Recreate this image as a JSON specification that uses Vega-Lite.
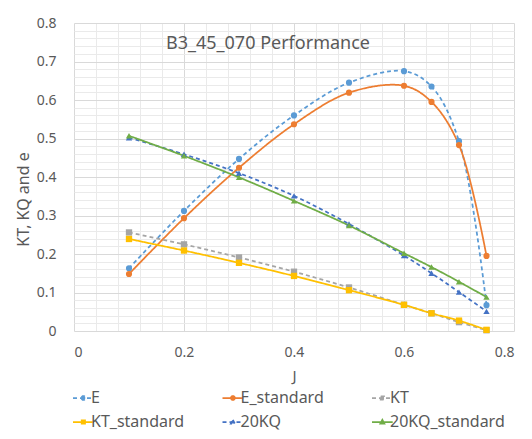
{
  "$schema": "https://vega.github.io/schema/vega-lite/v6.json",
  "width": 440,
  "height": 308,
  "autosize": {"type": "none"},
  "padding": {"left": 74, "top": 23, "right": 18, "bottom": 108},
  "background": "white",
  "config": {
    "font": "Noto Sans",
    "view": {"stroke": null},
    "axis": {"labelColor": "#595959", "titleColor": "#595959", "labelFont": "Noto Sans", "titleFont": "Noto Sans", "titleFontWeight": "normal"},
    "legend": {
      "direction": "horizontal",
      "columns": 3,
      "gridAlign": "all",
      "columnPadding": 12.5,
      "rowPadding": 8,
      "symbolSize": 100,
      "symbolStrokeWidth": 1.75,
      "labelOffset": 5,
      "labelFontSize": 16,
      "labelFont": "Noto Sans",
      "labelColor": "#595959",
      "labelLimit": 200
    }
  },
  "title": {
    "text": "B3_45_070 Performance",
    "anchor": "start",
    "frame": "group",
    "orient": "top",
    "offset": 0,
    "dx": 92,
    "dy": 51,
    "baseline": "alphabetic",
    "fontSize": 18,
    "fontWeight": "normal",
    "color": "#595959",
    "font": "Noto Sans"
  },
  "data": {
    "values": [
      {"J": 0.1, "series": "E", "v": 0.163},
      {"J": 0.2, "series": "E", "v": 0.312},
      {"J": 0.3, "series": "E", "v": 0.447},
      {"J": 0.4, "series": "E", "v": 0.560},
      {"J": 0.5, "series": "E", "v": 0.645},
      {"J": 0.6, "series": "E", "v": 0.675},
      {"J": 0.65, "series": "E", "v": 0.635},
      {"J": 0.7, "series": "E", "v": 0.493},
      {"J": 0.75, "series": "E", "v": 0.067},
      {"J": 0.1, "series": "E_standard", "v": 0.148},
      {"J": 0.2, "series": "E_standard", "v": 0.293},
      {"J": 0.3, "series": "E_standard", "v": 0.424},
      {"J": 0.4, "series": "E_standard", "v": 0.537},
      {"J": 0.5, "series": "E_standard", "v": 0.619},
      {"J": 0.6, "series": "E_standard", "v": 0.637},
      {"J": 0.65, "series": "E_standard", "v": 0.595},
      {"J": 0.7, "series": "E_standard", "v": 0.483},
      {"J": 0.75, "series": "E_standard", "v": 0.195},
      {"J": 0.1, "series": "KT", "v": 0.256},
      {"J": 0.2, "series": "KT", "v": 0.225},
      {"J": 0.3, "series": "KT", "v": 0.191},
      {"J": 0.4, "series": "KT", "v": 0.154},
      {"J": 0.5, "series": "KT", "v": 0.113},
      {"J": 0.6, "series": "KT", "v": 0.068},
      {"J": 0.65, "series": "KT", "v": 0.046},
      {"J": 0.7, "series": "KT", "v": 0.023},
      {"J": 0.75, "series": "KT", "v": 0.002},
      {"J": 0.1, "series": "KT_standard", "v": 0.239},
      {"J": 0.2, "series": "KT_standard", "v": 0.209},
      {"J": 0.3, "series": "KT_standard", "v": 0.177},
      {"J": 0.4, "series": "KT_standard", "v": 0.143},
      {"J": 0.5, "series": "KT_standard", "v": 0.106},
      {"J": 0.6, "series": "KT_standard", "v": 0.068},
      {"J": 0.65, "series": "KT_standard", "v": 0.046},
      {"J": 0.7, "series": "KT_standard", "v": 0.027},
      {"J": 0.75, "series": "KT_standard", "v": 0.003},
      {"J": 0.1, "series": "20KQ", "v": 0.502},
      {"J": 0.2, "series": "20KQ", "v": 0.459},
      {"J": 0.3, "series": "20KQ", "v": 0.410},
      {"J": 0.4, "series": "20KQ", "v": 0.351},
      {"J": 0.5, "series": "20KQ", "v": 0.278},
      {"J": 0.6, "series": "20KQ", "v": 0.196},
      {"J": 0.65, "series": "20KQ", "v": 0.150},
      {"J": 0.7, "series": "20KQ", "v": 0.101},
      {"J": 0.75, "series": "20KQ", "v": 0.051},
      {"J": 0.1, "series": "20KQ_standard", "v": 0.507},
      {"J": 0.2, "series": "20KQ_standard", "v": 0.455},
      {"J": 0.3, "series": "20KQ_standard", "v": 0.399},
      {"J": 0.4, "series": "20KQ_standard", "v": 0.338},
      {"J": 0.5, "series": "20KQ_standard", "v": 0.274},
      {"J": 0.6, "series": "20KQ_standard", "v": 0.202},
      {"J": 0.65, "series": "20KQ_standard", "v": 0.166},
      {"J": 0.7, "series": "20KQ_standard", "v": 0.128},
      {"J": 0.75, "series": "20KQ_standard", "v": 0.088}
    ]
  },
  "layer": [
    {
      "transform": [{"filter": "false"}],
      "mark": {"type": "point", "filled": true, "opacity": 1},
      "encoding": {
        "color": {
          "field": "series", "type": "nominal",
          "scale": {"domain": ["E", "E_standard", "KT", "KT_standard", "20KQ", "20KQ_standard"], "range": ["#5B9BD5", "#ED7D31", "#A5A5A5", "#FFC000", "#4472C4", "#70AD47"]},
          "legend": {"title": null, "orient": "none", "legendX": -4, "legendY": 367}
        },
        "stroke": {
          "field": "series", "type": "nominal",
          "scale": {"domain": ["E", "E_standard", "KT", "KT_standard", "20KQ", "20KQ_standard"], "range": ["#5B9BD5", "#ED7D31", "#A5A5A5", "#FFC000", "#4472C4", "#70AD47"]},
          "legend": {"title": null, "orient": "none", "legendX": -4, "legendY": 367}
        },
        "strokeDash": {
          "field": "series", "type": "nominal",
          "scale": {"domain": ["E", "E_standard", "KT", "KT_standard", "20KQ", "20KQ_standard"], "range": [[4, 3], [1, 0], [4, 3], [1, 0], [4, 3], [1, 0]]},
          "legend": {"title": null, "orient": "none", "legendX": -4, "legendY": 367}
        },
        "shape": {
          "field": "series", "type": "nominal",
          "scale": {
            "domain": ["E", "E_standard", "KT", "KT_standard", "20KQ", "20KQ_standard"],
            "range": [
              "M-1,0H3.14M0.69,-0.15L0.92,-0.38L1.22,-0.38L1.45,-0.15L1.45,0.15L1.22,0.38L0.92,0.38L0.69,0.15Z",
              "M-1,0H3.14M0.69,-0.15L0.92,-0.38L1.22,-0.38L1.45,-0.15L1.45,0.15L1.22,0.38L0.92,0.38L0.69,0.15Z",
              "M-1,0H3.14M0.74,-0.33H1.4V0.33H0.74Z",
              "M-1,0H3.14M0.74,-0.33H1.4V0.33H0.74Z",
              "M-1,0H3.14M1.07,-0.42L1.47,0.32H0.67Z",
              "M-1,0H3.14M1.07,-0.42L1.47,0.32H0.67Z"
            ]
          },
          "legend": {"title": null, "orient": "none", "legendX": -4, "legendY": 367}
        }
      }
    },
    {
      "mark": {"type": "line", "interpolate": "catmull-rom", "strokeWidth": 1.75},
      "encoding": {
        "x": {
          "field": "J", "type": "quantitative",
          "scale": {"domain": [0, 0.8], "nice": false, "zero": false},
          "axis": {
            "orient": "top", "values": [0.04, 0.08, 0.12, 0.16, 0.24, 0.28, 0.32, 0.36, 0.44, 0.48, 0.52, 0.56, 0.64, 0.68, 0.72, 0.76],
            "grid": true, "gridColor": "#EAEAEA", "gridWidth": 1, "labels": false, "ticks": false, "domain": false, "title": null
          }
        },
        "y": {
          "field": "v", "type": "quantitative",
          "scale": {"domain": [0, 0.8], "nice": false},
          "axis": {
            "orient": "right", "values": [0.02, 0.04, 0.06, 0.08, 0.12, 0.14, 0.16, 0.18, 0.22, 0.24, 0.26, 0.28, 0.32, 0.34, 0.36, 0.38, 0.42, 0.44, 0.46, 0.48, 0.52, 0.54, 0.56, 0.58, 0.62, 0.64, 0.66, 0.68, 0.72, 0.74, 0.76, 0.78],
            "grid": true, "gridColor": "#EAEAEA", "gridWidth": 1, "labels": false, "ticks": false, "domain": false, "title": null
          }
        },
        "color": {"field": "series", "type": "nominal", "legend": null},
        "strokeDash": {"field": "series", "type": "nominal", "legend": null}
      }
    },
    {
      "transform": [{"filter": "datum.series == 'E' || datum.series == 'E_standard'"}],
      "mark": {"type": "point", "shape": "circle", "filled": true, "opacity": 1, "size": 38},
      "encoding": {
        "x": {
          "field": "J", "type": "quantitative",
          "axis": {
            "orient": "bottom", "values": [0, 0.2, 0.4, 0.6, 0.8], "format": "~g",
            "grid": true, "gridColor": "#D9D9D9", "gridWidth": 1, "ticks": false, "tickSize": 0, "domain": false,
            "labelFontSize": 14, "labelPadding": 14, "title": "J", "titleFontSize": 15, "titlePadding": 9
          }
        },
        "y": {
          "field": "v", "type": "quantitative",
          "axis": {
            "orient": "left", "values": [0, 0.1, 0.2, 0.3, 0.4, 0.5, 0.6, 0.7, 0.8], "format": "~g",
            "grid": true, "gridColor": "#D9D9D9", "gridWidth": 1, "ticks": false, "tickSize": 0, "domain": false,
            "labelFontSize": 14, "labelPadding": 18, "title": "KT, KQ and e", "titleFontSize": 16,
            "titleX": -51, "titleY": 176, "titleAngle": -90, "titleBaseline": "middle", "titleAlign": "center"
          }
        },
        "color": {"field": "series", "type": "nominal", "legend": null}
      }
    },
    {
      "transform": [{"filter": "datum.series == 'KT' || datum.series == 'KT_standard'"}],
      "mark": {"type": "point", "shape": "square", "filled": true, "opacity": 1, "size": 40},
      "encoding": {
        "x": {"field": "J", "type": "quantitative", "axis": null},
        "y": {"field": "v", "type": "quantitative", "axis": null},
        "color": {"field": "series", "type": "nominal", "legend": null}
      }
    },
    {
      "transform": [{"filter": "datum.series == '20KQ' || datum.series == '20KQ_standard'"}],
      "mark": {"type": "point", "shape": "triangle-up", "filled": true, "opacity": 1, "size": 40},
      "encoding": {
        "x": {"field": "J", "type": "quantitative", "axis": null},
        "y": {"field": "v", "type": "quantitative", "axis": null},
        "color": {"field": "series", "type": "nominal", "legend": null}
      }
    }
  ],
  "resolve": {"axis": {"x": "independent", "y": "independent"}}
}
